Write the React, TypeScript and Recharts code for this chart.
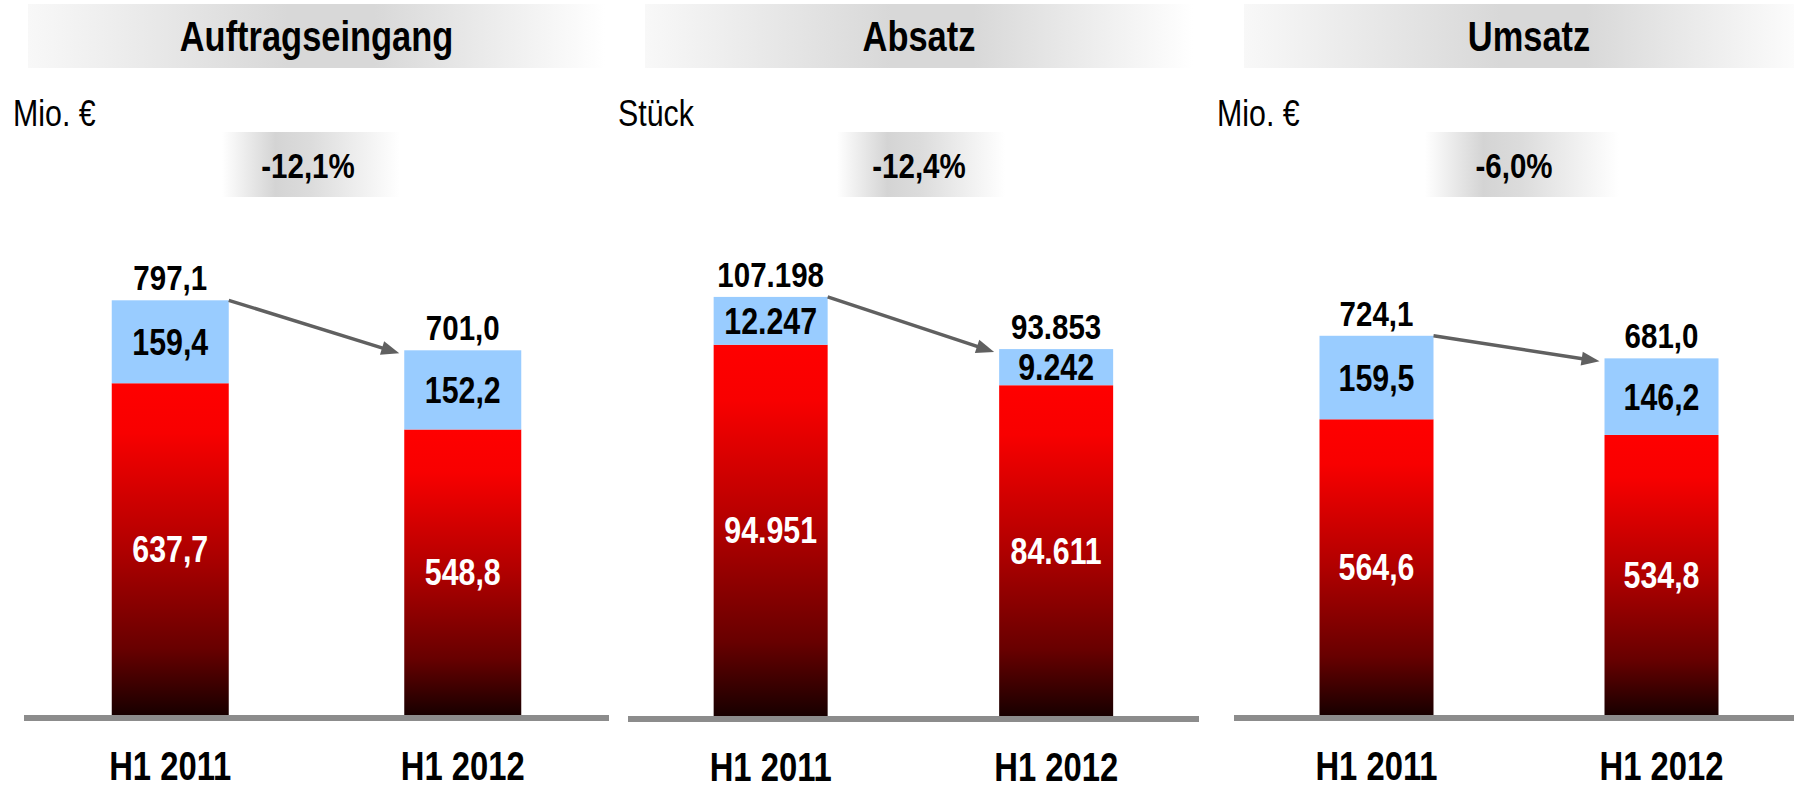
import React from 'react';
import { BarChart, Bar, XAxis, YAxis, LabelList, ReferenceLine } from 'recharts';

const categories = ['H1 2011', 'H1 2012'];
const titles = ['Auftragseingang', 'Absatz', 'Umsatz'];
const units = ['Mio. €', 'Stück', 'Mio. €'];
const changes = ['-12,1%', '-12,4%', '-6,0%'];

// red (lower) and light blue (upper) segments per panel
const auftragseingangBase = [637.7, 548.8];
const auftragseingangTop = [159.4, 152.2];
const absatzBase = [94951, 84611];
const absatzTop = [12247, 9242];
const umsatzBase = [564.6, 534.8];
const umsatzTop = [159.5, 146.2];

const baseSeries = [auftragseingangBase, absatzBase, umsatzBase];
const topSeries = [auftragseingangTop, absatzTop, umsatzTop];
const axisMax = [913, 121500, 907];
const decimals = [1, 0, 1];

// no narrow font installed: squeeze Liberation Sans horizontally (Arial Narrow is ~82% of Arial)
const FONT = "'Liberation Sans', Arial, sans-serif";
const SQUEEZE = 0.82;

const layout = [
  { left: 24, top: 200, width: 585, bannerX: 28, bannerW: 577, unitX: 13, boxX: 222, boxW: 178, pctX: 308 },
  { left: 628, top: 201, width: 571, bannerX: 645, bannerW: 548, unitX: 618, boxX: 837, boxW: 168, pctX: 919 },
  { left: 1234, top: 200, width: 570, bannerX: 1244, bannerW: 570, unitX: 1217, boxX: 1425, boxW: 194, pctX: 1514 },
];

const fmt = (v: number, d: number) => {
  if (d > 0) return v.toFixed(d).replace('.', ',');
  return Math.round(v).toString().replace(/\B(?=(\d{3})+(?!\d))/g, '.');
};

const Narrow = ({ x, y, size, bold, fill = '#000', anchor = 'middle', children }: any) => (
  <g transform={`translate(${x},${y}) scale(${SQUEEZE},1)`}>
    <text x={0} y={0} textAnchor={anchor} fontFamily={FONT} fontWeight={bold ? 'bold' : 'normal'} fontSize={size} fill={fill}>
      {children}
    </text>
  </g>
);

const Arrow = ({ sx, sy, tx, ty }: any) => {
  const dx = tx - sx;
  const dy = ty - sy;
  const len = Math.sqrt(dx * dx + dy * dy);
  const ux = dx / len;
  const uy = dy / len;
  const nx = -uy;
  const ny = ux;
  const hl = 18;
  const hw = 7;
  const bx = tx - ux * hl;
  const by = ty - uy * hl;
  return (
    <g>
      <line x1={sx} y1={sy} x2={tx - ux * 14} y2={ty - uy * 14} stroke="#606060" strokeWidth={3.5} />
      <polygon
        points={`${tx},${ty} ${bx + nx * hw},${by + ny * hw} ${bx - nx * hw},${by - ny * hw}`}
        fill="#606060"
      />
    </g>
  );
};

function Panel({ idx }: { idx: number }) {
  const l = layout[idx];
  const d = decimals[idx];
  const data = categories.map((c, i) => ({
    cat: c,
    base: baseSeries[idx][i],
    top: topSeries[idx][i],
    total: baseSeries[idx][i] + topSeries[idx][i],
  }));
  const store: any = {};

  const topShape = (props: any) => {
    const { x, y, width, height, index, fill } = props;
    if (index === 0) store.first = { x, y, width };
    const f = store.first;
    return (
      <g>
        <rect x={x} y={y} width={width} height={height} fill={fill} />
        {index === 1 && f && <Arrow sx={f.x + f.width} sy={f.y} tx={x - 5} ty={y + 3} />}
      </g>
    );
  };

  const centerLabel = (color: string) => (props: any) => {
    const vb = props.viewBox || props;
    const { x, y, width, height } = vb;
    return (
      <Narrow x={x + width / 2} y={y + height / 2 + 13} size={37} bold fill={color}>
        {fmt(Number(props.value), d)}
      </Narrow>
    );
  };

  const totalLabel = (props: any) => {
    const vb = props.viewBox || props;
    const { x, y, width } = vb;
    const row = data[props.index];
    if (!row) return null;
    return (
      <Narrow x={x + width / 2} y={y - 10} size={36} bold>
        {fmt(row.total, d)}
      </Narrow>
    );
  };

  const tick = ({ x, y, payload }: any) => (
    <Narrow x={x} y={y + 65} size={40} bold>
      {payload.value}
    </Narrow>
  );

  return (
    <div style={{ position: 'absolute', left: l.left, top: l.top }}>
      <BarChart width={l.width} height={589} data={data} margin={{ top: 40, right: 0, left: 0, bottom: 0 }} barCategoryGap="30%">
        <XAxis dataKey="cat" axisLine={false} tickLine={false} tickSize={0} tickMargin={0} height={74} interval={0} tick={tick} />
        <YAxis hide type="number" domain={[0, axisMax[idx]]} />
        <Bar dataKey="base" stackId="a" fill="url(#redFade)" isAnimationActive={false}>
          <LabelList dataKey="base" content={centerLabel('#fff')} />
        </Bar>
        <Bar dataKey="top" stackId="a" fill="#99ccff" shape={topShape} isAnimationActive={false}>
          <LabelList dataKey="top" content={centerLabel('#000')} />
          <LabelList dataKey="top" content={totalLabel} />
        </Bar>
        <ReferenceLine
          y={0}
          stroke="#8c8c8c"
          shape={(p: any) => (
            <rect x={p.x1} y={p.y1} width={p.x2 - p.x1} height={6} fill="#8c8c8c" />
          )}
        />
      </BarChart>
    </div>
  );
}

export default function App() {
  return (
    <div style={{ position: 'absolute', left: 0, top: 0, width: 1794, height: 789, overflow: 'hidden', background: '#fff' }}>
      <svg width={1794} height={789} style={{ position: 'absolute', left: 0, top: 0 }}>
        <defs>
          <linearGradient id="redFade" x1="0" y1="0" x2="0" y2="1">
            <stop offset="0" stopColor="#ff0000" />
            <stop offset="0.15" stopColor="#f80000" />
            <stop offset="0.5" stopColor="#b00000" />
            <stop offset="0.8" stopColor="#680000" />
            <stop offset="1" stopColor="#180000" />
          </linearGradient>
          <linearGradient id="bannerFade" x1="0" y1="0" x2="1" y2="0">
            <stop offset="0" stopColor="#f8f8f8" />
            <stop offset="0.45" stopColor="#d8d8d8" />
            <stop offset="0.6" stopColor="#d8d8d8" />
            <stop offset="1" stopColor="#ffffff" />
          </linearGradient>
          <linearGradient id="boxFade" x1="0" y1="0" x2="1" y2="0">
            <stop offset="0" stopColor="#ffffff" />
            <stop offset="0.3" stopColor="#d4d4d4" />
            <stop offset="0.5" stopColor="#dcdcdc" />
            <stop offset="1" stopColor="#ffffff" />
          </linearGradient>
        </defs>
        {layout.map((l, i) => (
          <g key={i}>
            <rect x={l.bannerX} y={4} width={l.bannerW} height={64} fill="url(#bannerFade)" />
            <Narrow x={l.bannerX + l.bannerW / 2} y={51} size={42} bold>
              {titles[i]}
            </Narrow>
            <Narrow x={l.unitX} y={126} size={37} anchor="start">
              {units[i]}
            </Narrow>
            <rect x={l.boxX} y={132} width={l.boxW} height={65} fill="url(#boxFade)" />
            <Narrow x={l.pctX} y={178} size={36} bold>
              {changes[i]}
            </Narrow>
          </g>
        ))}
      </svg>
      {layout.map((_, i) => (
        <Panel key={i} idx={i} />
      ))}
    </div>
  );
}
